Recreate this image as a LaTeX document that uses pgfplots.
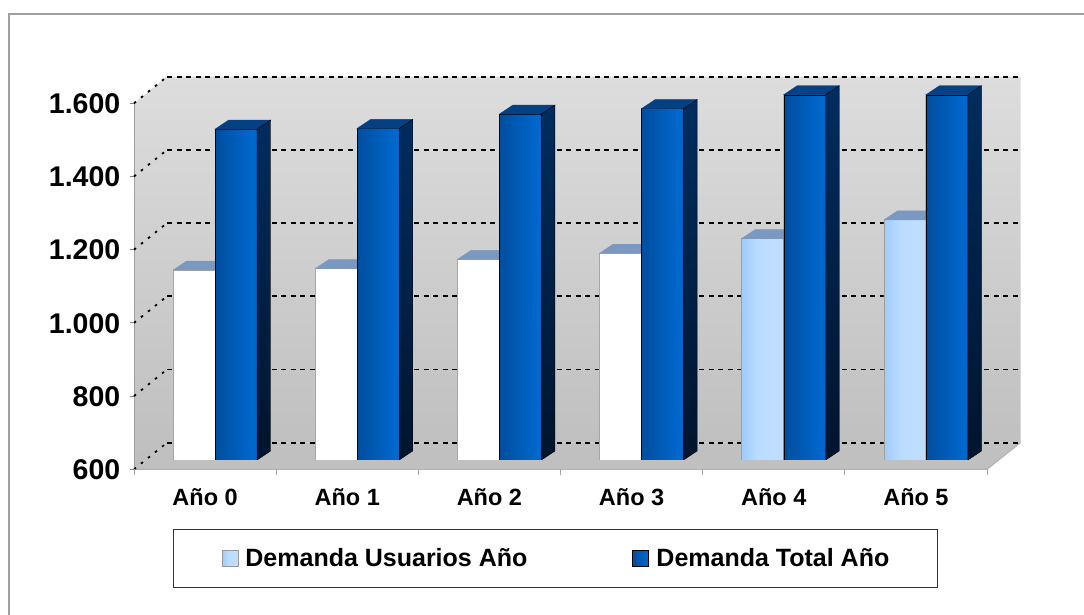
\documentclass[border=0pt]{standalone}
\usepackage{fontspec}
\setmainfont{Liberation Sans}
\usepackage{pgfplots}
\usepackage{pgfplotstable}
\pgfplotsset{compat=1.18}

\definecolor{bl1}{RGB}{0,70,143}
\definecolor{bl2}{RGB}{0,78,158}
\definecolor{bl3}{RGB}{0,104,206}
\definecolor{bl4}{RGB}{0,86,174}
\definecolor{lb1}{RGB}{165,208,252}
\definecolor{lb2}{RGB}{150,200,252}
\definecolor{lb3}{RGB}{188,220,255}
\definecolor{lb4}{RGB}{194,224,255}
\definecolor{topgray}{RGB}{122,152,192}
\definecolor{topblue}{RGB}{4,64,130}
\definecolor{side1}{RGB}{0,45,95}
\definecolor{side2}{RGB}{0,20,45}
\definecolor{wallTop}{RGB}{221,221,221}
\definecolor{wallBot}{RGB}{190,190,190}
\definecolor{floorc}{RGB}{192,192,192}

\pgfdeclarehorizontalshading{bluefront}{100bp}{color(0bp)=(bl1); color(25bp)=(bl2); color(70bp)=(bl3); color(100bp)=(bl4)}
\pgfdeclarehorizontalshading{lightfront}{100bp}{color(0bp)=(lb1); color(20bp)=(lb2); color(45bp)=(lb3); color(100bp)=(lb4)}
\pgfdeclareplotmark{empty}{}

\pgfplotstableread{
x usu tot
0 1119 1504
1 1123 1506
2 1148 1545
3 1165 1560
4 1205 1598
5 1256 1598
}\datatable

\begin{document}
\begin{tikzpicture}
\useasboundingbox (0,0) rectangle (1084pt,615pt);
% outer frame
\draw[gray!75, line width=1.5pt] (9pt,0pt) -- (9pt,601pt) -- (1084pt,601pt);
% walls
\shade[top color=wallTop, bottom color=wallBot] (134pt,145.7pt) -- (134pt,511.7pt) -- (167pt,538.3pt) -- (1020.5pt,538.3pt) -- (1020.5pt,172.3pt) -- (167pt,172.3pt) -- cycle;
\fill[floorc] (134pt,145.7pt) -- (987pt,145.7pt) -- (1020.5pt,172.3pt) -- (167pt,172.3pt) -- cycle;
\draw[gray!60, line width=1pt] (134pt,145.7pt) -- (987pt,145.7pt) -- (1020.5pt,172.3pt);
\draw[gray!75, line width=1pt] (134pt,145.7pt) -- (134pt,511.7pt);
% grid
\foreach \yf in {145.7,218.9,292.1,365.3,438.5,511.7}{
  \pgfmathsetmacro\yb{\yf+26.6}
  \draw[black, line width=1.8pt, dash pattern=on 5pt off 4.5pt] (167pt,\yb pt) -- (1020.5pt,\yb pt);
  \draw[black, line width=1.8pt, dash pattern=on 2.5pt off 6.5pt] (134pt,\yf pt) -- (167pt,\yb pt);
  \draw[gray, line width=1pt] (129.5pt,\yf pt) -- (134pt,\yf pt);
}
\foreach \k in {0,...,6}{
  \pgfmathsetmacro\xx{134+142.17*\k}
  \draw[gray!70, line width=1pt] (\xx pt,145.7pt) -- (\xx pt,139.5pt);
}
\begin{axis}[
  at={(144pt,155pt)}, anchor=south west,
  scale only axis, width=853pt, height=384.3pt,
  xmin=-0.5, xmax=5.5, ymin=600, ymax=1650,
  axis line style={draw=none}, tick style={draw=none}, major tick length=0pt,
  xtick={0,...,5},
  xticklabels={Año 0,Año 1,Año 2,Año 3,Año 4,Año 5},
  ytick={600,800,1000,1200,1400,1600},
  /pgf/number format/1000 sep={.},
  /pgf/number format/assume math mode=true,
  yticklabel style={font=\fontsize{28.5}{30}\selectfont\bfseries, anchor=base east, inner sep=0pt, xshift=-23.5pt, yshift=-19.6pt},
  xticklabel style={font=\fontsize{23.5}{26}\selectfont\bfseries, anchor=base, inner sep=0pt, xshift=-10pt, yshift=-46pt},
  clip marker paths=true,
  legend columns=2,
  legend style={at={(0.4824,-0.2558)}, anchor=center, draw=black!80, line width=1pt,
    inner xsep=48pt, inner ysep=19pt, font=\fontsize{25}{28}\selectfont\bfseries,
    nodes={inner sep=0pt},
    /tikz/every odd column/.append style={column sep=7pt},
    /tikz/every even column/.append style={column sep=105pt}},
]
% white bars (years 0-3)
\addplot[ybar, bar width=42pt, bar shift=-21pt, fill=white, draw=gray!70, line width=0.8pt, forget plot, restrict x to domain=0:3] table[x=x,y=usu]{\datatable};
\addplot[scatter, only marks, mark=empty, forget plot, restrict x to domain=0:3,
  scatter/@pre marker code/.code={%
    \fill[topgray] (-42pt,0pt) -- (0pt,0pt) -- (13.5pt,9pt) -- (-28.5pt,9pt) -- cycle;
  },
  scatter/@post marker code/.code={}] table[x=x,y=usu]{\datatable};
% light blue bars (years 4-5)
\addplot[ybar, bar width=42pt, bar shift=-21pt, fill=lb3, draw=gray!70, line width=0.8pt, forget plot, restrict x to domain=4:5] table[x=x,y=usu]{\datatable};
\addplot[scatter, only marks, mark=empty, forget plot, restrict x to domain=4:5,
  visualization depends on={rawy \as \ry},
  scatter/@pre marker code/.code={%
    \pgfmathsetmacro\hh{(\ry-600)*0.366}%
    \shade[shading=lightfront, draw=gray!75, line width=0.8pt] (-42pt,0pt) rectangle (0pt,-\hh pt);
    \fill[topgray] (-42pt,0pt) -- (0pt,0pt) -- (13.5pt,9pt) -- (-28.5pt,9pt) -- cycle;
  },
  scatter/@post marker code/.code={}] table[x=x,y=usu]{\datatable};
% blue bars
\addplot[ybar, bar width=42pt, bar shift=21pt, fill=bl2, draw=none, forget plot] table[x=x,y=tot]{\datatable};
\addplot[scatter, only marks, mark=empty, forget plot,
  visualization depends on={rawy \as \ry},
  scatter/@pre marker code/.code={%
    \pgfmathsetmacro\hh{(\ry-600)*0.366}%
    \shade[shading=bluefront] (0pt,0pt) rectangle (42pt,-\hh pt);
    \fill[topblue] (0pt,0pt) -- (42pt,0pt) -- (55.5pt,9pt) -- (13.5pt,9pt) -- cycle;
    \shade[top color=side1, bottom color=side2] (42pt,0pt) -- (55.5pt,9pt) -- (55.5pt,9pt-\hh pt) -- (42pt,-\hh pt) -- cycle;
  },
  scatter/@post marker code/.code={}] table[x=x,y=tot]{\datatable};
% legend
\addlegendimage{legend image code/.code={\shade[shading=lightfront, draw=gray!80, line width=0.8pt] (0pt,-8pt) rectangle (16pt,8pt);}}
\addlegendentry{Demanda Usuarios Año}
\addlegendimage{legend image code/.code={\shade[shading=bluefront] (0pt,-8pt) rectangle (16pt,8pt);}}
\addlegendentry{Demanda Total Año}
\end{axis}
\end{tikzpicture}
\end{document}
